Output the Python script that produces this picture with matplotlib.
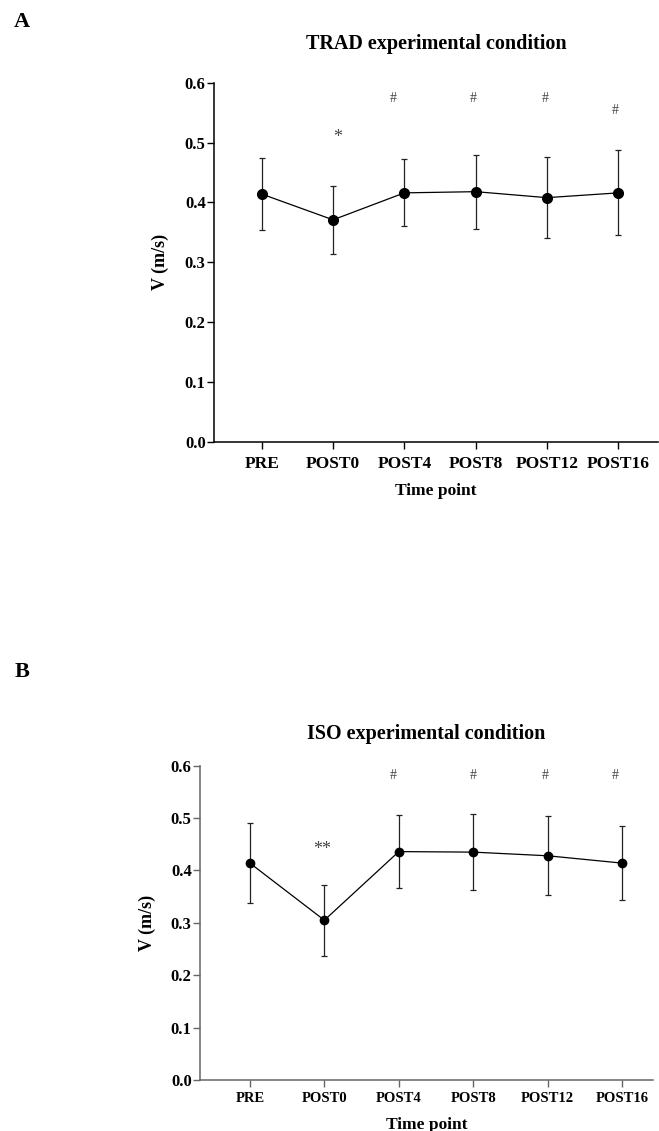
import matplotlib.pyplot as plt

plt.rcParams['font.family'] = 'Liberation Serif'
plt.rcParams['font.weight'] = 'bold'

time_points = ['PRE', 'POST0', 'POST4', 'POST8', 'POST12', 'POST16']

# TRAD condition: mean and SD of velocity
trad_mean = [0.414, 0.371, 0.416, 0.418, 0.408, 0.416]
trad_sd = [0.060, 0.057, 0.056, 0.062, 0.068, 0.071]
trad_marks = ['', '*', '#', '#', '#', '#']
trad_mark_y = [None, 0.508, 0.574, 0.574, 0.574, 0.554]

# ISO condition
iso_mean = [0.414, 0.305, 0.436, 0.435, 0.428, 0.414]
iso_sd = [0.076, 0.068, 0.069, 0.072, 0.075, 0.070]
iso_marks = ['', '**', '#', '#', '#', '#']
iso_mark_y = [None, 0.440, 0.582, 0.582, 0.582, 0.582]


def draw_panel(ax, mean, sd, marks, mark_y, title, axcol, fs_tick, msize, xoff,
               xpad, xlabpad, tpad):
    x = range(len(time_points))
    ax.errorbar(x, mean, yerr=sd, fmt='o-', color='black', ecolor='#222222',
                lw=0.9, elinewidth=0.9, capsize=2.5, capthick=0.9, ms=msize)
    ax.set_ylim(0, 0.6)
    ax.set_yticks([0.0, 0.1, 0.2, 0.3, 0.4, 0.5, 0.6])
    ax.set_xticks(list(x))
    ax.set_xticklabels(time_points, fontsize=fs_tick, fontweight='bold')
    ax.set_yticklabels(['%.1f' % v for v in ax.get_yticks()], fontsize=12, fontweight='bold')
    for s in ['top', 'right']:
        ax.spines[s].set_visible(False)
    for s in ['left', 'bottom']:
        ax.spines[s].set_color(axcol)
        ax.spines[s].set_linewidth(1.1)
    ax.tick_params(axis='both', colors=axcol, length=5, width=1.0, labelcolor='black')
    ax.tick_params(axis='x', pad=xpad)
    ax.tick_params(axis='y', pad=1)
    ax.set_xlabel('Time point', fontsize=12.5, fontweight='bold', labelpad=xlabpad)
    ax.set_ylabel('V (m/s)', fontsize=13, fontweight='bold', labelpad=11)
    ax.set_title(title, fontsize=14.5, fontweight='bold', pad=tpad)
    for i, (m, y) in enumerate(zip(marks, mark_y)):
        if m:
            ax.text(i + xoff[i], y, m, ha='center', va='center',
                    fontsize=10 if m == '#' else 13,
                    fontweight='normal', color='#444444')


fig = plt.figure(figsize=(6.59, 11.31), dpi=100)

axA = fig.add_axes([0.3247, 0.6092, 0.674, 0.3177])
axA.set_xlim(-0.67, 5.56)
draw_panel(axA, trad_mean, trad_sd, trad_marks, trad_mark_y,
           'TRAD experimental condition', 'black', 12.5, 7,
           [0, 0.07, -0.15, -0.04, -0.03, -0.04], 5, 8, 24)

axB = fig.add_axes([0.3035, 0.0451, 0.687, 0.2779])
axB.set_xlim(-0.67, 5.41)
draw_panel(axB, iso_mean, iso_sd, iso_marks, iso_mark_y,
           'ISO experimental condition', '#666666', 10.5, 6,
           [0, -0.03, -0.08, 0, -0.03, -0.1], 4, 8, 19)

fig.text(22 / 659, 1 - 22 / 1131, 'A', fontsize=16, fontweight='bold', ha='center', va='center')
fig.text(22 / 659, 1 - 672 / 1131, 'B', fontsize=16, fontweight='bold', ha='center', va='center')

fig.savefig('out.png', dpi=100)
